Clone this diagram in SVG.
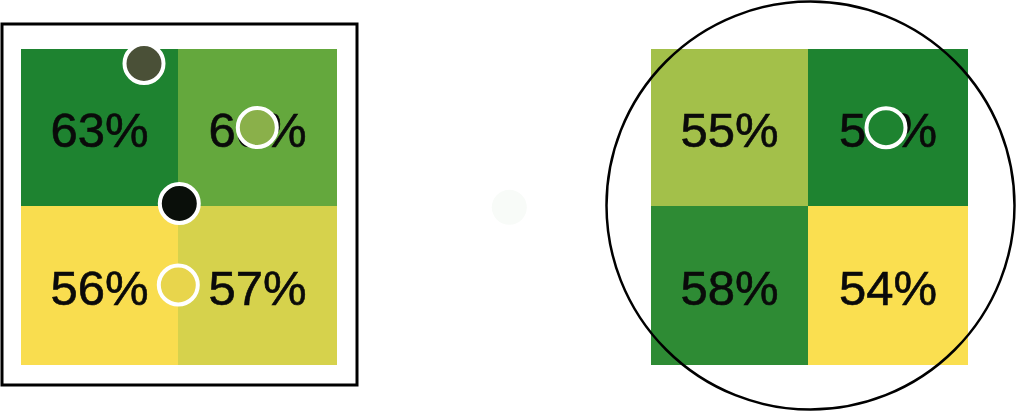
<svg xmlns="http://www.w3.org/2000/svg" width="1020" height="415" viewBox="0 0 1020 415">
<style>
.lbl{font-family:"Liberation Sans",Arial,sans-serif;font-size:49px;fill:#0a0a0a;stroke:#0a0a0a;stroke-width:0.6;text-anchor:middle}
.dot{stroke:#ffffff;stroke-width:4}
.frame{fill:none;stroke:#000;stroke-width:3}
</style>
<rect width="1020" height="415" fill="#ffffff"/>
<g id="left-panel">
  <rect class="frame" x="2" y="24" width="355" height="361"/>
  <g id="cell-l-tl"><rect x="21" y="49" width="157" height="157" fill="#1e8330"/><text class="lbl" x="99.5" y="146.5">63%</text></g>
  <g id="cell-l-tr"><rect x="178" y="49" width="159" height="157" fill="#64a83d"/><text class="lbl" x="257.5" y="146.5">60%</text></g>
  <g id="cell-l-bl"><rect x="21" y="206" width="157" height="159" fill="#f9dd4f"/><text class="lbl" x="99.5" y="304.5">56%</text></g>
  <g id="cell-l-br"><rect x="178" y="206" width="159" height="159" fill="#d6d24c"/><text class="lbl" x="257.5" y="304.5">57%</text></g>
  <g id="dots-left">
    <circle class="dot" cx="144" cy="63.5" r="19.5" fill="#4a5037"/>
    <circle class="dot" cx="257.3" cy="127.5" r="19.5" fill="#8ab04a"/>
    <circle class="dot" cx="179.3" cy="203.5" r="19.5" fill="#0a0f0a"/>
    <circle class="dot" cx="178.3" cy="285" r="19.5" fill="#e8d54c"/>
  </g>
</g>
<g id="middle-dot">
  <circle cx="509.3" cy="207.3" r="17.5" fill="#f8fbf8"/>
</g>
<g id="right-panel">
  <g id="cell-r-tl"><rect x="651" y="49" width="157" height="157" fill="#a3c04a"/><text class="lbl" x="729.5" y="146.5">55%</text></g>
  <g id="cell-r-tr"><rect x="808" y="49" width="160" height="157" fill="#1e8330"/><text class="lbl" x="888" y="146.5">50%</text></g>
  <g id="cell-r-bl"><rect x="651" y="206" width="157" height="159" fill="#2e8b34"/><text class="lbl" x="729.5" y="304.5">58%</text></g>
  <g id="cell-r-br"><rect x="808" y="206" width="160" height="159" fill="#fadf50"/><text class="lbl" x="888" y="304.5">54%</text></g>
  <g id="dots-right">
    <circle class="dot" cx="886" cy="127.7" r="19.5" fill="#1e8330"/>
  </g>
  <circle id="ring" cx="810.5" cy="205.5" r="204" fill="none" stroke="#000" stroke-width="2.5"/>
</g>
</svg>
